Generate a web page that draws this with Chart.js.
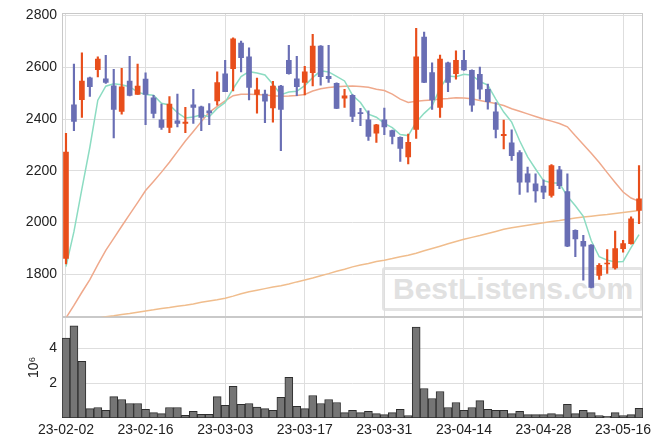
<!DOCTYPE html>
<html><head><meta charset="utf-8">
<script src="https://cdn.jsdelivr.net/npm/chart.js@4"></script>
<style>
html,body{margin:0;padding:0;background:#fff;}
#wrap{position:relative;width:663px;height:447px;}
#wm{position:absolute;left:382px;top:267px;width:247px;height:38px;padding-left:8px;border:3px solid #e4e4e4;border-radius:3px;font:bold 30px "Liberation Sans",Arial,sans-serif;color:#e1e1e1;line-height:38px;z-index:0;white-space:nowrap;}
#c{position:absolute;left:0;top:0;z-index:1;}
</style></head>
<body>
<div id="wrap">
<div id="wm">BestListens.com</div>
<canvas id="c" width="663" height="447"></canvas>
</div>
<script>
const dates = ['23-02-02','23-02-03','23-02-06','23-02-07','23-02-08','23-02-09','23-02-10','23-02-13','23-02-14','23-02-15',
'23-02-16','23-02-17','23-02-20','23-02-21','23-02-22','23-02-23','23-02-24','23-02-27','23-02-28','23-03-02',
'23-03-03','23-03-06','23-03-07','23-03-08','23-03-09','23-03-10','23-03-13','23-03-14','23-03-15','23-03-16',
'23-03-17','23-03-20','23-03-21','23-03-22','23-03-23','23-03-24','23-03-27','23-03-28','23-03-29','23-03-30',
'23-03-31','23-04-03','23-04-04','23-04-05','23-04-06','23-04-07','23-04-10','23-04-11','23-04-12','23-04-13',
'23-04-14','23-04-17','23-04-18','23-04-19','23-04-20','23-04-21','23-04-24','23-04-25','23-04-26','23-04-27',
'23-04-28','23-05-02','23-05-03','23-05-04','23-05-08','23-05-09','23-05-10','23-05-11','23-05-12','23-05-15',
'23-05-16','23-05-17','23-05-18'];

const open  = [1862,2455,2475,2559,2591,2555,2528,2429,2547,2495, 2554,2482,2397,2368,2393,2383,2455,2447,2432,2470,
               2575,2595,2693,2640,2495,2496,2443,2527,2627,2555, 2541,2579,2682,2565,2538,2481,2492,2425,2397,2345,
               2397,2355,2329,2254,2360,2717,2579,2445,2617,2575, 2627,2588,2573,2515,2428,2336,2308,2270,2188,2150,
               2141,2105,2204,2120,1970,1928,1913,1796,1840,1825, 1899,1919,2047];
const high  = [2345,2612,2656,2562,2640,2646,2592,2596,2642,2612, 2578,2492,2458,2487,2496,2445,2515,2450,2460,2582,
               2627,2714,2701,2675,2558,2512,2546,2530,2685,2642, 2604,2727,2684,2685,2540,2515,2494,2441,2432,2380,
               2442,2357,2331,2342,2750,2736,2617,2647,2620,2663, 2665,2590,2601,2535,2464,2396,2358,2278,2214,2188,
               2165,2224,2217,2188,1972,1951,1915,1842,1896,1967, 1932,2022,2220];
const low   = [1840,2355,2406,2487,2563,2538,2327,2419,2489,2495, 2378,2404,2360,2347,2370,2347,2383,2355,2378,2454,
               2506,2509,2582,2474,2423,2386,2388,2278,2573,2490, 2493,2528,2531,2541,2440,2445,2390,2374,2317,2310,
               2340,2304,2236,2227,2325,2540,2437,2406,2506,2554, 2588,2429,2477,2438,2327,2285,2240,2109,2118,2079,
               2092,2098,2131,1907,1868,1778,1748,1781,1804,1820, 1886,1917,1996];
const close = [2272,2391,2547,2525,2632,2541,2437,2524,2491,2527, 2495,2422,2368,2458,2383,2388,2445,2406,2424,2541,
               2506,2710,2637,2522,2513,2469,2527,2437,2575,2525, 2582,2682,2564,2556,2441,2490,2410,2421,2333,2378,
               2370,2333,2287,2310,2640,2541,2474,2632,2541,2627, 2590,2454,2515,2467,2360,2341,2259,2156,2156,2122,
               2118,2220,2143,1909,1937,1909,1750,1835,1844,1900, 1919,2015,2092];
// volume in millions of shares
const volume = [4.58,5.29,3.25,0.54,0.60,0.44,1.23,1.06,0.83,0.83, 0.50,0.31,0.25,0.60,0.60,0.15,0.38,0.21,0.21,1.23,
                0.73,1.81,0.79,0.83,0.62,0.54,0.44,1.19,2.33,0.67, 0.54,1.29,0.83,1.06,0.89,0.31,0.44,0.31,0.38,0.25,
                0.19,0.31,0.50,0.14,5.21,1.69,1.12,1.52,0.60,0.89, 0.44,0.60,1.00,0.50,0.44,0.44,0.25,0.38,0.19,0.19,
                0.19,0.25,0.19,0.79,0.25,0.44,0.31,0.14,0.10,0.31, 0.14,0.19,0.56];
const ma5  = [1830,1965,2130,2291,2473,2527,2536,2532,2525,2504, 2495,2492,2461,2454,2425,2404,2408,2416,2409,2441,
              2464,2517,2564,2583,2578,2570,2534,2494,2504,2507, 2529,2560,2586,2582,2565,2547,2492,2464,2419,2407,
              2383,2367,2340,2336,2388,2422,2450,2519,2566,2563, 2573,2569,2545,2531,2477,2427,2388,2316,2254,2207,
              2162,2154,2152,2102,2065,2024,1930,1868,1855,1848, 1850,1903,1954];
const ma20 = [1632,1680,1731,1780,1838,1893,1939,1986,2032,2077, 2124,2159,2195,2233,2274,2315,2352,2390,2426,2449,
              2470,2490,2496,2496,2495,2493,2490,2488,2489,2491, 2495,2508,2517,2522,2525,2527,2528,2526,2523,2515,
              2510,2496,2477,2464,2469,2472,2474,2477,2479,2482, 2481,2478,2472,2466,2460,2452,2440,2430,2420,2410,
              2400,2392,2383,2370,2335,2302,2268,2232,2193,2155, 2118,2095,2082];
const ma60 = [1613,1618,1622,1627,1631,1636,1640,1645,1649,1654, 1659,1663,1668,1672,1677,1681,1686,1692,1697,1702,
              1708,1716,1725,1733,1739,1745,1751,1756,1763,1771, 1778,1786,1795,1803,1812,1820,1829,1836,1842,1850,
              1855,1861,1868,1874,1882,1891,1900,1909,1918,1927, 1936,1943,1950,1958,1966,1974,1980,1985,1990,1995,
              1999,2004,2008,2013,2018,2022,2025,2028,2031,2035, 2039,2043,2047];
const priceTicks = [1800,2000,2200,2400,2600,2800];
const volumeTicks = [2,4];

const UP = '#e84e1b', DOWN = '#696eb4';
const candleColors = close.map((c,i) => c >= open[i] ? UP : DOWN);
const FONT = {family:'"Liberation Sans", Arial, sans-serif', size:14};
const GRID = '#dedede';

const panelClip = {
  id:'panelClip',
  beforeDatasetDraw(chart, args){
    const ys = args.meta.yScale, a = chart.chartArea, ctx = chart.ctx;
    ctx.save(); ctx.beginPath();
    ctx.rect(a.left, ys.top, a.right - a.left, ys.bottom - ys.top);
    ctx.clip();
  },
  afterDatasetDraw(chart){ chart.ctx.restore(); }
};
const frames = {
  id:'frames',
  beforeDatasetsDraw(chart){
    const {ctx, chartArea:a, scales} = chart;
    ctx.save(); ctx.strokeStyle = '#c9c9c9'; ctx.lineWidth = 1;
    for (const id of ['y','yv']) {
      const s = scales[id];
      const l = Math.round(a.left)+0.5, t = Math.round(s.top)+0.5;
      ctx.strokeRect(l, t, Math.round(a.right)-Math.round(a.left)-1, Math.round(s.bottom)-Math.round(s.top)-1);
    }
    ctx.restore();
  }
};

new Chart(document.getElementById('c'), {
  type:'bar',
  data:{
    labels: dates,
    datasets:[
      {type:'line', data:ma5, yAxisID:'y', borderColor:'#8cdcc2', borderWidth:1.5, pointRadius:0, tension:0, order:5},
      {type:'line', data:ma20, yAxisID:'y', borderColor:'#efa98c', borderWidth:1.5, pointRadius:0, tension:0, order:6},
      {type:'line', data:ma60, yAxisID:'y', borderColor:'#f0bd8d', borderWidth:1.5, pointRadius:0, tension:0, order:7},
      {data: low.map((l,i)=>[l, high[i]]), yAxisID:'y', backgroundColor:candleColors, barThickness:1.5, grouped:false, order:2},
      {data: open.map((o,i)=>[o, close[i]]), yAxisID:'y', backgroundColor:candleColors, barThickness:5, minBarLength:1, grouped:false, order:1},
      {data: volume, yAxisID:'yv', backgroundColor:'#757575', borderColor:'#2e2e2e', borderWidth:1, borderSkipped:false,
       barPercentage:1, categoryPercentage:1, grouped:false, order:3}
    ]
  },
  options:{
    responsive:false, animation:false, devicePixelRatio:1,
    layout:{padding:{top:12, right:20, left:0, bottom:0}},
    plugins:{legend:{display:false}, tooltip:{enabled:false}},
    scales:{
      x:{type:'category', offset:true,
         grid:{offset:false, color:GRID, drawTicks:false}, border:{display:false},
         ticks:{autoSkip:false, maxRotation:0, padding:4, color:'#222', font:FONT},
         afterBuildTicks(s){ s.ticks = s.ticks.filter(t => t.value % 10 === 0); },
         afterFit(s){ s.height = 29; }},
      y:{type:'linear', position:'left', stack:'panels', stackWeight:3, weight:2, min:1636, max:2808,
         grid:{color:GRID, drawTicks:false}, border:{display:false},
         ticks:{padding:5, color:'#222', font:FONT, callback:v => String(v)},
         afterBuildTicks(s){ s.ticks = priceTicks.map(v => ({value:v})); },
         afterFit(s){ s.width = 62; }},
      yv:{type:'linear', position:'left', stack:'panels', stackWeight:1, weight:1, min:0, max:5.8,
         grid:{color:GRID, drawTicks:false}, border:{display:false},
         ticks:{padding:5, color:'#222', font:FONT, callback:v => String(v)},
         afterBuildTicks(s){ s.ticks = volumeTicks.map(v => ({value:v})); },
         title:{display:true, text:'10⁶', color:'#222', font:FONT, padding:{top:26, bottom:0}},
         afterFit(s){ s.width = 62; }}
    }
  },
  plugins:[panelClip, frames]
});
</script>
</body></html>
